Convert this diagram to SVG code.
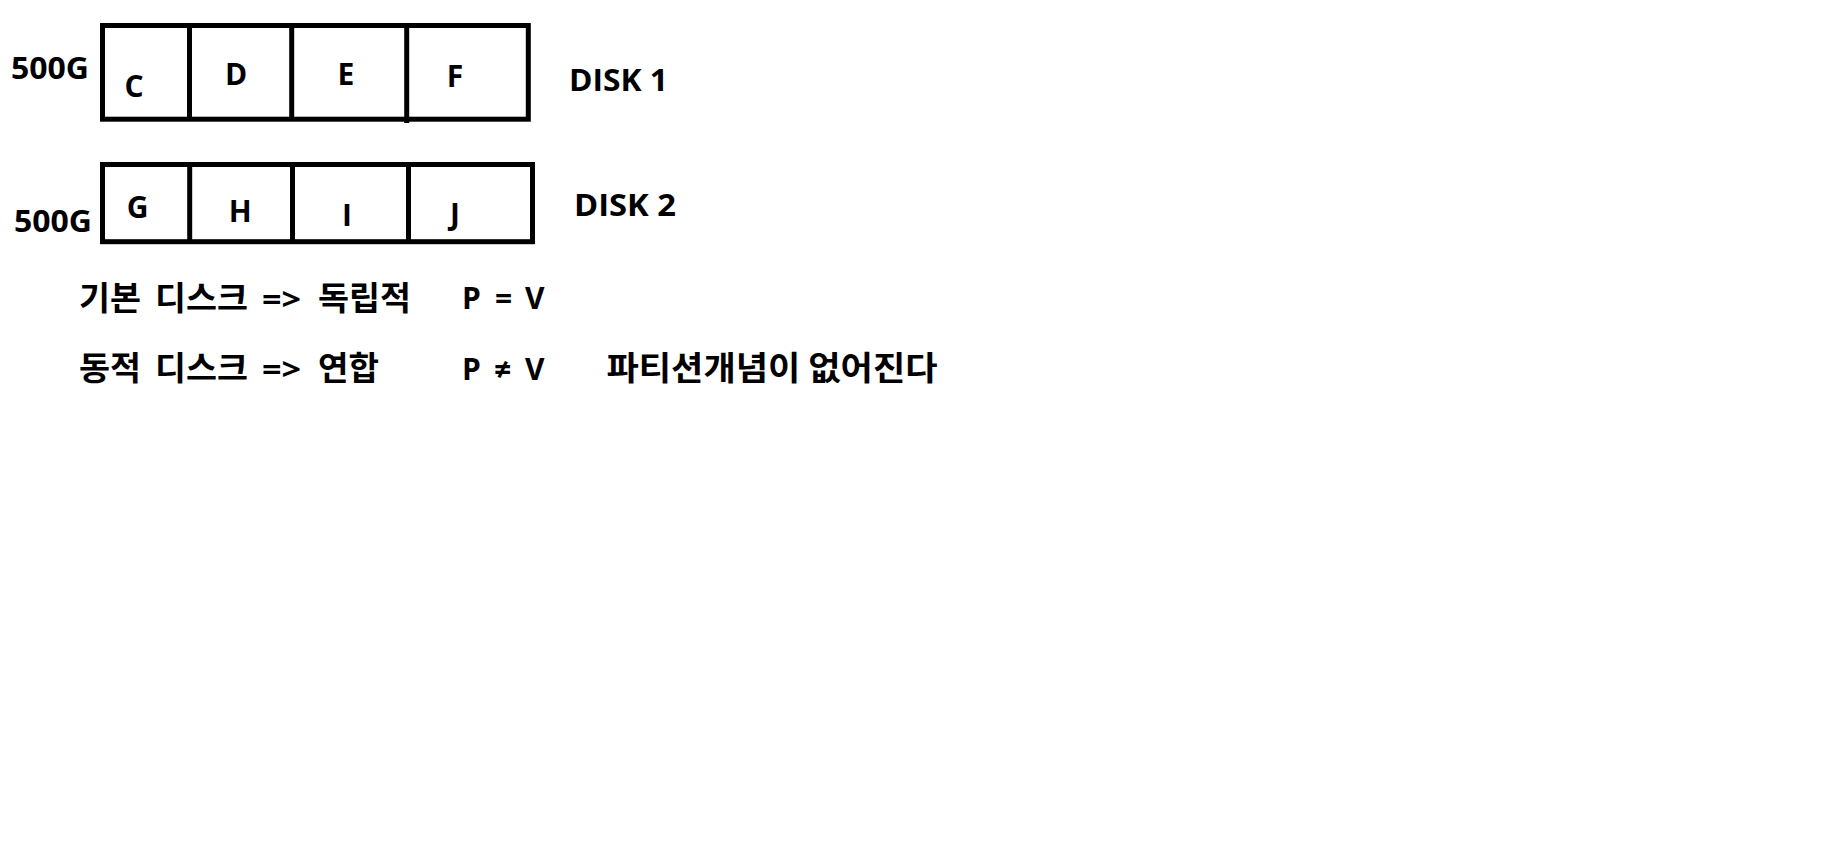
<svg xmlns="http://www.w3.org/2000/svg" width="1840" height="856" viewBox="0 0 1840 856">
<style>
.frame{fill:none;stroke:#000;stroke-width:5}
.div{stroke:#000;stroke-width:5}
.lat{font-family:"Open Sans","Noto Sans","Noto Sans CJK KR",sans-serif;font-weight:700;font-size:30px;fill:#000}
.ko{font-family:"Noto Sans CJK KR","Noto Sans",sans-serif;font-weight:700;font-size:33px;fill:#000}
.mid{text-anchor:middle}
</style>
<rect width="1840" height="856" fill="#fff"/>
<g id="connectors"/>
<g id="disk1">
<rect class="frame" x="102.5" y="25.5" width="425.8" height="93.7"/>
<line class="div" x1="189.5" y1="28" x2="189.5" y2="117"/>
<line class="div" x1="291.7" y1="28" x2="291.7" y2="117"/>
<line class="div" x1="406.7" y1="28" x2="406.7" y2="123"/>
<text class="lat" x="11" y="79" style="font-size:31px" textLength="78" lengthAdjust="spacingAndGlyphs">500G</text>
<text class="lat" x="569" y="90.7" style="font-size:31px" textLength="99" lengthAdjust="spacingAndGlyphs">DISK 1</text>
</g>
<g id="part-C"><text class="lat mid" x="134" y="97">C</text></g>
<g id="part-D"><text class="lat mid" x="236" y="85">D</text></g>
<g id="part-E"><text class="lat mid" x="346" y="85">E</text></g>
<g id="part-F"><text class="lat mid" x="455" y="86.5">F</text></g>
<g id="disk2">
<rect class="frame" x="102.5" y="164.5" width="430" height="77.2"/>
<line class="div" x1="189.7" y1="167" x2="189.7" y2="240"/>
<line class="div" x1="292.5" y1="167" x2="292.5" y2="240"/>
<line class="div" x1="408.5" y1="167" x2="408.5" y2="240"/>
<text class="lat" x="14" y="231.7" style="font-size:31px" textLength="78" lengthAdjust="spacingAndGlyphs">500G</text>
<text class="lat" x="574" y="216" style="font-size:31px" textLength="102" lengthAdjust="spacingAndGlyphs">DISK 2</text>
</g>
<g id="part-G"><text class="lat mid" x="137.5" y="218.3">G</text></g>
<g id="part-H"><text class="lat mid" x="240.3" y="221.7">H</text></g>
<g id="part-I"><text class="lat mid" x="347" y="226">I</text></g>
<g id="part-J"><text class="lat mid" x="455" y="225">J</text></g>
<g id="basic">
<text class="ko" x="79" y="310" textLength="62" lengthAdjust="spacingAndGlyphs">기본</text>
<text class="ko" x="155" y="310" textLength="93" lengthAdjust="spacingAndGlyphs">디스크</text>
<text class="lat" x="262" y="310" textLength="39" lengthAdjust="spacingAndGlyphs">=&gt;</text>
<text class="ko" x="318" y="310" textLength="93" lengthAdjust="spacingAndGlyphs">독립적</text>
<text class="lat" x="462" y="309.3">P</text>
<text class="lat" x="495" y="309.3">=</text>
<text class="lat" x="525" y="309.3">V</text>
</g>
<g id="dynamic">
<text class="ko" x="79" y="380" textLength="62" lengthAdjust="spacingAndGlyphs">동적</text>
<text class="ko" x="155" y="380" textLength="93" lengthAdjust="spacingAndGlyphs">디스크</text>
<text class="lat" x="262" y="380" textLength="39" lengthAdjust="spacingAndGlyphs">=&gt;</text>
<text class="ko" x="318" y="380" textLength="61" lengthAdjust="spacingAndGlyphs">연합</text>
<text class="lat" x="462" y="380">P</text>
<text class="lat" x="494" y="380">≠</text>
<text class="lat" x="525" y="380">V</text>
<text class="ko" x="606.5" y="380" textLength="331" lengthAdjust="spacingAndGlyphs">파티션개념이 없어진다</text>
</g>
</svg>
